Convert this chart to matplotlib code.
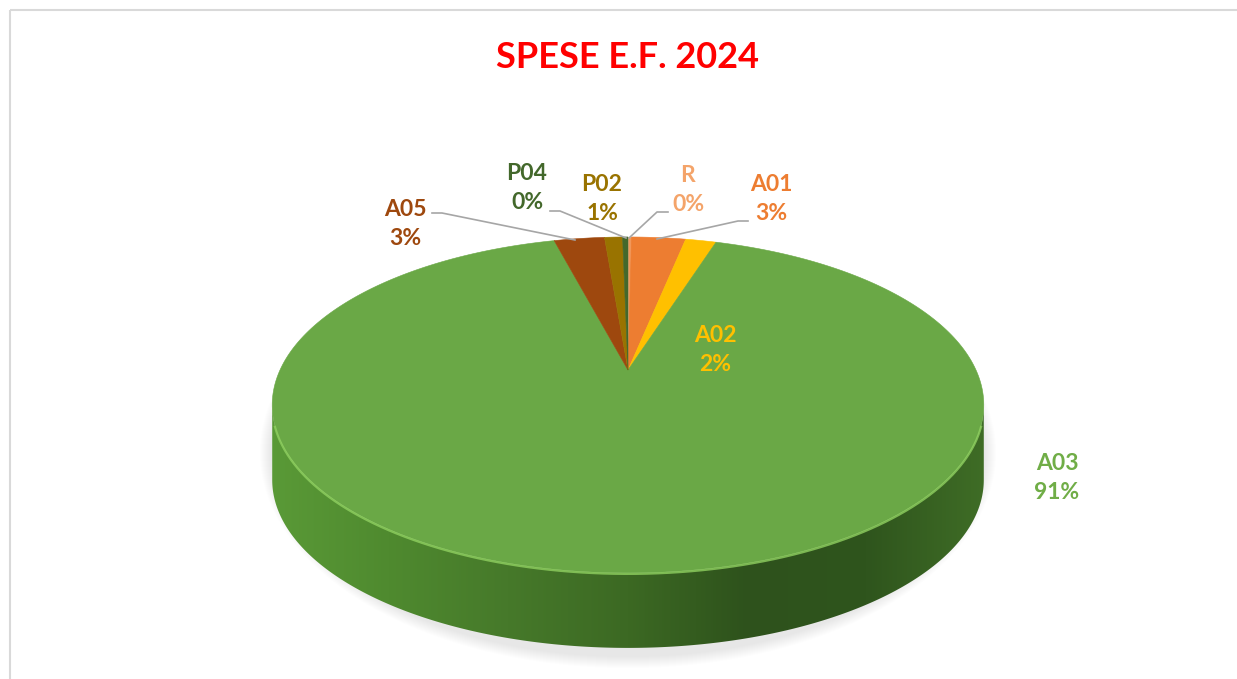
import numpy as np
import matplotlib.pyplot as plt
from matplotlib.patches import Polygon, Ellipse, Rectangle
from matplotlib.colors import LinearSegmentedColormap

# data (Excel order, clockwise from 12 o'clock)
labels = ["R", "A01", "A02", "A03", "A05", "P02", "P04"]
values = [0.2, 3.0, 1.7, 91.0, 2.8, 1.0, 0.3]
colors = ["#F1975A", "#ED7D31", "#FFC000", "#6AA846", "#9E480E", "#997300", "#43682B"]
text_colors = ["#F4A46A", "#ED7D31", "#FFC000", "#70AD47", "#9E480E", "#997300", "#43682B"]

plt.rcParams['font.family'] = ['Lato', 'DejaVu Sans']

fig = plt.figure(figsize=(12.37, 6.79), dpi=100)
ax = fig.add_axes([0, 0, 1, 1])
ax.set_xlim(0, 1237)
ax.set_ylim(679, 0)
ax.axis('off')

# chart border
ax.add_patch(Rectangle((10, 10), 1300, 700, fill=False, ec="#d9d9d9", lw=1.5))

# pie geometry in pixel space, simple perspective on a tilted disc
cx, cy = 628, 370     # centre of the disc (apex of the slices)
A, B, k = 348, 160.7, 0.208
depth = 75

def proj(t, dy=0):
    s = 1 + k * np.cos(t)
    return cx + A * np.sin(t) / s, cy - B * np.cos(t) / s + dy

# soft shadow
for i in range(12):
    ax.add_patch(Ellipse((cx, 405 + depth / 2 + 10), 2 * 356 + 24 - 2 * i, 2 * 168 + depth + 20 - 2 * i,
                         fc="#808080", ec="none", alpha=0.016, zorder=1))

# side band (visible front part)
t1 = np.arccos(-k)
t = np.linspace(t1, 2 * np.pi - t1, 300)
x1, y1 = proj(t)
x2, y2 = proj(t[::-1], depth)
side = Polygon(np.column_stack([np.r_[x1, x2], np.r_[y1, y2]]), closed=True,
               fc="none", ec="none", zorder=2)
ax.add_patch(side)
side_cmap = LinearSegmentedColormap.from_list(
    "side", ["#5a9a37", "#4f8a2f", "#46792a", "#3c6923", "#2e521c", "#2f551d", "#3f6d26"])
grad = np.linspace(0, 1, 256).reshape(1, -1)
im = ax.imshow(grad, cmap=side_cmap, extent=[cx - 360, cx + 360, 660, 390],
               aspect='auto', zorder=2)
im.set_clip_path(side)

# top face slices
fr = np.cumsum([0] + values) / sum(values)
for i, lab in enumerate(labels):
    tt = np.linspace(2 * np.pi * fr[i], 2 * np.pi * fr[i + 1], 300)
    xs, ys = proj(tt)
    pts = np.column_stack([np.r_[cx, xs], np.r_[cy, ys]])
    ax.add_patch(Polygon(pts, closed=True, fc=colors[i], ec=colors[i], lw=0.4, zorder=3))

# highlight along the front rim
th = np.linspace(t1 + 0.12, 2 * np.pi - t1 - 0.12, 200)
hx, hy = proj(th, 1)
ax.plot(hx, hy, color="#8fd060", lw=1.6, alpha=0.8, zorder=4)

# labels
pcts = [f"{round(v):.0f}%" for v in values]
lab_pos = {"R": (688, 190), "A01": (771, 199), "A02": (715, 350), "A03": (1057, 478),
           "A05": (405, 224), "P02": (602, 199), "P04": (527, 188)}
for i, lab in enumerate(labels):
    x, y = lab_pos[lab]
    ax.text(x, y, f"{lab}\n{pcts[i]}", ha="center", va="center", color=text_colors[i],
            fontsize=16.5, fontweight="bold", linespacing=1.45, zorder=6)

# leader lines
leaders = {
    "A05": [(432, 213), (442, 213), (575, 240)],
    "P04": [(550, 211), (560, 211), (626, 238)],
    "R": [(668, 212), (657, 212), (629, 238)],
    "A01": [(748, 221), (738, 221), (657, 239)],
}
for lab, pts in leaders.items():
    p = np.array(pts)
    ax.plot(p[:, 0], p[:, 1], color="#a6a6a6", lw=1.2, zorder=5)

ax.text(628, 58, "SPESE E.F. 2024", ha="center", va="center", color="#FF0000",
        fontsize=26, fontweight="bold")

fig.savefig("out.png", dpi=100)
